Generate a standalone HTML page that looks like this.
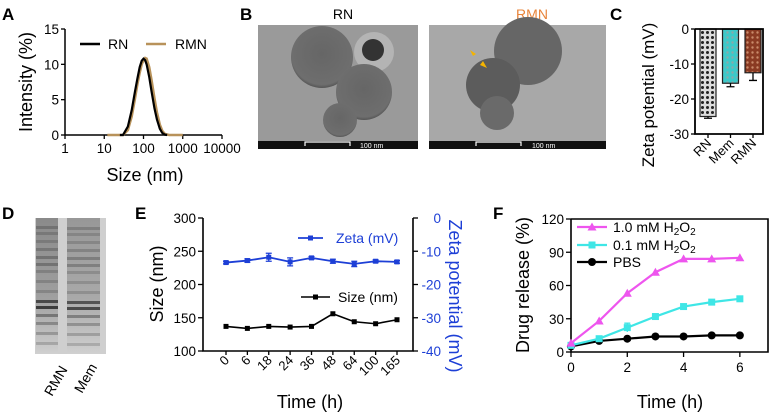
<!DOCTYPE html>
<html><head><meta charset="utf-8"><style>
body{margin:0;background:#fff;}
svg{display:block;font-family:"Liberation Sans",Arial,sans-serif;}
</style></head><body>
<svg id="fig" width="772" height="414" viewBox="0 0 772 414" xmlns="http://www.w3.org/2000/svg">
<defs>
<pattern id="pRN" width="5" height="5" patternUnits="userSpaceOnUse"><rect width="5" height="5" fill="#ddd"/><circle cx="2.5" cy="2.5" r="1.5" fill="#222"/></pattern>
<pattern id="pMem" width="5" height="5" patternUnits="userSpaceOnUse"><rect width="5" height="5" fill="#3cc9c9"/><circle cx="2.5" cy="2.5" r="1.2" fill="#8aa"/></pattern>
<pattern id="pRMN" width="5" height="5" patternUnits="userSpaceOnUse"><rect width="5" height="5" fill="#8a3a22"/><circle cx="2.5" cy="2.5" r="1.2" fill="#c98a6a"/></pattern>
<radialGradient id="sph" cx="50%" cy="45%" r="55%"><stop offset="0" stop-color="#666"/><stop offset="0.9" stop-color="#6e6e6e"/><stop offset="1" stop-color="#555"/></radialGradient>
<linearGradient id="gelg" x1="0" y1="0" x2="0" y2="1"><stop offset="0" stop-color="#8a8a8a"/><stop offset="0.6" stop-color="#a0a0a0"/><stop offset="1" stop-color="#d0d0d0"/></linearGradient>
</defs>
<g id="gA"></g>
<g id="gB">
 <text x="2" y="20" font-size="17" font-weight="bold">A</text>
 <text x="240" y="20" font-size="17" font-weight="bold">B</text>
 <text x="343" y="19" font-size="14" text-anchor="middle">RN</text>
 <text x="532" y="19" font-size="14" text-anchor="middle" fill="#e8843a">RMN</text>
 <g>
  <rect x="258" y="25" width="160" height="124" fill="#9a9a9a"/>
  <circle cx="322" cy="57" r="31" fill="url(#sph)"/>
  <circle cx="374" cy="52" r="20" fill="#b4b4b4"/><circle cx="373" cy="50" r="11" fill="#333"/>
  <circle cx="364" cy="92" r="28" fill="url(#sph)"/>
  <circle cx="340" cy="120" r="17" fill="url(#sph)"/>
  <rect x="258" y="141" width="160" height="8" fill="#111"/>
  <path d="M305 146V142H350V146" stroke="#fff" fill="none" stroke-width="1.2"/>
  <text x="360" y="148" font-size="7" fill="#fff">100 nm</text>
 </g>
 <g>
  <rect x="429" y="25" width="177" height="124" fill="#a8a8a8"/>
  <circle cx="528" cy="51" r="34" fill="#666"/>
  <circle cx="493" cy="85" r="27" fill="#5c5c5c"/>
  <circle cx="497" cy="113" r="17" fill="#6a6a6a"/>
  <path d="M470 50l6 4-3 2zM487 68l-7-3 3-4z" fill="#f5b400"/>
  <rect x="429" y="141" width="177" height="8" fill="#111"/>
  <path d="M476 146V142H521V146" stroke="#fff" fill="none" stroke-width="1.2"/>
  <text x="532" y="148" font-size="7" fill="#fff">100 nm</text>
 </g>
</g>
<g id="gC"></g>
<g id="gD">
 <text x="2" y="219" font-size="17" font-weight="bold">D</text>
 <g id="gel">
  <rect x="35" y="218" width="71" height="136" fill="#cfcfcf"/>
  <rect x="36" y="218" width="22" height="136" fill="url(#gelg)"/>
  <rect x="67" y="218" width="33" height="136" fill="url(#gelg)" opacity="0.8"/>
 </g>
 <text transform="translate(52,397) rotate(-60)" font-size="14">RMN</text>
 <text transform="translate(82,394) rotate(-60)" font-size="14">Mem</text>
</g>
<g id="gE"></g>
<g id="gF"></g>
</svg>
<script>
// ---- Panel A data ----
const aSizesRN=[25,30,40,50,60,70,80,90,100,110,120,140,160,190,220,260,300,350,400];
const aIntRN=[0,0,1.2,3.5,6,8,9.6,10.5,10.8,10.6,10,8.2,6.2,3.8,2.2,0.9,0.3,0.05,0];
const aSizesRMN=[12,30,40,50,60,70,80,90,100,110,120,140,160,190,220,260,300,350,450,600,1000];
const aIntRMN=[0,0,0.7,2.6,5,7.2,8.8,10,10.6,10.9,10.8,9.6,7.8,5.2,3.2,1.5,0.6,0.15,0,0,0];
const aXTicks=[1,10,100,1000,10000];
const aYTicks=[0,5,10,15];
// ---- Panel C data ----
const cCats=["RN","Mem","RMN"];
const cVals=[-25,-15.5,-12.5];
const cErr=[0.5,1,2.2];
const cYTicks=[0,-10,-20,-30];
// ---- Panel E data ----
const eCats=["0","6","18","24","36","48","64","100","165"];
const eSize=[137,134,137,136,137,156,144,141,147];
const eZeta=[-13.4,-12.8,-11.8,-13.2,-12,-13,-13.8,-13,-13.2];
const eZetaErr=[0.4,0.5,1.2,1.2,0.4,0.6,0.8,0.4,0.4];
const eYTicks=[100,150,200,250,300];
const eY2Ticks=[0,-10,-20,-30,-40];
// ---- Panel F data ----
const fTime=[0,1,2,3,4,5,6];
const fHigh=[8,28,53,72,84,84,85];
const fLow=[6,12,22,32,41,45,48];
const fPBS=[5,10,12,14,14,15,15];
const fLowErr=[0,1,4,2,2,2,1];
const fXTicks=[0,2,4,6];
const fYTicks=[0,30,60,90,120];
// gel band rows (y offset, darkness)
const gelBands=[[8,0.25],[14,0.2],[22,0.2],[30,0.25],[38,0.3],[45,0.3],[52,0.2],[62,0.2],[72,0.2],[82,0.7],[88,0.8],[96,0.4],[104,0.3],[114,0.25],[124,0.2]];

const NS="http://www.w3.org/2000/svg";
function mk(parent,tag,attrs,txt){const e=document.createElementNS(NS,tag);for(const k in attrs)e.setAttribute(k,attrs[k]);if(txt!==undefined)e.textContent=txt;parent.appendChild(e);return e;}
const TF=13.5, TT=18;

// gel bands
(function(){const g=document.getElementById('gel');
 gelBands.forEach(([dy,o])=>{mk(g,'rect',{x:36,y:218+dy,width:22,height:3,fill:'#222',opacity:o});
  mk(g,'rect',{x:67,y:218+dy+1,width:33,height:3,fill:'#222',opacity:o*0.9});});
})();

// ===== Panel A =====
(function(){
 const g=document.getElementById('gA');
 const X0=65,X1=222,Y0=135,Y1=29;
 const x=v=>X0+(Math.log10(v)-0)/4*(X1-X0);
 const y=v=>Y0-v/15*(Y0-Y1);
 let ax=mk(g,'path',{d:`M${X0} ${Y1}V${Y0}H${X1}`,stroke:'#000','stroke-width':1.5,fill:'none'});
 
 
 aXTicks.forEach(t=>{mk(g,'line',{x1:x(t),x2:x(t),y1:Y0,y2:Y0+4,stroke:'#000','stroke-width':1.3});
  const l=mk(g,'text',{x:x(t),y:Y0+18,'font-size':TF,'text-anchor':'middle'},String(t));
  
  });
 aYTicks.forEach(t=>{mk(g,'line',{x1:X0-4,x2:X0,y1:y(t),y2:y(t),stroke:'#000','stroke-width':1.3});
  const l=mk(g,'text',{x:X0-6,y:y(t)+5,'font-size':TF,'text-anchor':'end'},String(t));
  
  });
 const lr=mk(g,'path',{d:aSizesRMN.map((s,i)=>(i?'L':'M')+x(s)+' '+y(aIntRMN[i])).join(''),stroke:'#b8925a','stroke-width':2.5,fill:'none'});
 
 
 const ln=mk(g,'path',{d:aSizesRN.map((s,i)=>(i?'L':'M')+x(s)+' '+y(aIntRN[i])).join(''),stroke:'#000','stroke-width':2.2,fill:'none'});
 
 
 mk(g,'line',{x1:80,x2:100,y1:44,y2:44,stroke:'#000','stroke-width':2.5});
 let t=mk(g,'text',{x:108,y:49,'font-size':14},'RN');
 
 
 mk(g,'line',{x1:146,x2:166,y1:44,y2:44,stroke:'#b8925a','stroke-width':2.5});
 t=mk(g,'text',{x:175,y:49,'font-size':14},'RMN');
 
 
 t=mk(g,'text',{x:145,y:181,'font-size':TT,'text-anchor':'middle'},'Size (nm)');
 
 
 t=mk(g,'text',{transform:`translate(32,82) rotate(-90)`,'font-size':TT,'text-anchor':'middle'},'Intensity (%)');
 
 
})();

// ===== Panel C =====
(function(){
 const g=document.getElementById('gC');
 const X0=695,X1=763,Y0=29,Y1=134;
 const y=v=>Y0+(-v)/30*(Y1-Y0);
 let t=mk(g,'text',{x:610,y:20,'font-size':17,'font-weight':'bold'},'C');
 
 
 const fills=['url(#pRN)','url(#pMem)','url(#pRMN)'];
 const bw=16,step=22.5,start=700;
 cCats.forEach((c,i)=>{
  const bx=start+i*step;
  const b=mk(g,'rect',{x:bx,y:y(0),width:bw,height:y(cVals[i])-y(0),fill:fills[i],stroke:'#222','stroke-width':1.2});
  
  
  const cx=bx+bw/2,ye=y(cVals[i]-cErr[i]);
  mk(g,'path',{d:`M${cx} ${y(cVals[i])}V${ye}M${cx-4} ${ye}H${cx+4}`,stroke:'#000','stroke-width':1.3,fill:'none'});
  mk(g,'line',{x1:cx,x2:cx,y1:Y1,y2:Y1+4,stroke:'#000','stroke-width':1.3});
  const l=mk(g,'text',{transform:`translate(${cx+4},${Y1+10}) rotate(-45)`,'font-size':13,'text-anchor':'end'},c);
  
  
 });
 const ax=mk(g,'path',{d:`M${X0} ${Y0}V${Y1}H${X1}V${Y0}H${X0}`,stroke:'#000','stroke-width':1.8,fill:'none'});
 
 
 cYTicks.forEach(v=>{mk(g,'line',{x1:X0-4,x2:X0,y1:y(v),y2:y(v),stroke:'#000','stroke-width':1.3});
  const l=mk(g,'text',{x:X0-6,y:y(v)+5,'font-size':TF,'text-anchor':'end'},String(v));
  
  });
 t=mk(g,'text',{transform:`translate(654,95) rotate(-90)`,'font-size':17,'text-anchor':'middle'},'Zeta potential (mV)');
 
 
})();

// ===== Panel E =====
(function(){
 const g=document.getElementById('gE');
 const X0=203,X1=413,Y0=351,Y1=218,BLUE='#1d3fd6';
 const x=i=>226+i*(397-226)/(eCats.length-1);
 const y=v=>Y0-(v-100)/200*(Y0-Y1);
 const y2=v=>Y1+(-v)/40*(Y0-Y1);
 let t=mk(g,'text',{x:135,y:219,'font-size':17,'font-weight':'bold'},'E');
 
 
 const ax=mk(g,'path',{d:`M${X0} ${Y1}V${Y0}H${X1}V${Y1}`,stroke:'#000','stroke-width':1.6,fill:'none'});
 
 
 eYTicks.forEach(v=>{mk(g,'line',{x1:X0-5,x2:X0,y1:y(v),y2:y(v),stroke:'#000','stroke-width':1.3});
  const l=mk(g,'text',{x:X0-7,y:y(v)+5,'font-size':TF,'text-anchor':'end'},String(v));
  
  });
 eY2Ticks.forEach(v=>{mk(g,'line',{x1:X1,x2:X1+5,y1:y2(v),y2:y2(v),stroke:'#000','stroke-width':1.3});
  const l=mk(g,'text',{x:X1+28,y:y2(v)+5,'font-size':TF,'text-anchor':'end',fill:BLUE},String(v));
  
  });
 eCats.forEach((c,i)=>{mk(g,'line',{x1:x(i),x2:x(i),y1:Y0,y2:Y0+4,stroke:'#000','stroke-width':1.3});
  const l=mk(g,'text',{transform:`translate(${x(i)+4},${Y0+10}) rotate(-45)`,'font-size':13,'text-anchor':'end'},c);
  
  });
 const zl=mk(g,'path',{d:eZeta.map((v,i)=>(i?'L':'M')+x(i)+' '+y2(v)).join(''),stroke:BLUE,'stroke-width':1.8,fill:'none'});
 
 
 eZeta.forEach((v,i)=>{const a=y2(v+eZetaErr[i]),b=y2(v-eZetaErr[i]);
  mk(g,'path',{d:`M${x(i)} ${a}V${b}M${x(i)-3} ${a}h6M${x(i)-3} ${b}h6`,stroke:BLUE,'stroke-width':1.3,fill:'none'});
  const p=mk(g,'rect',{x:x(i)-2.5,y:y2(v)-2.5,width:5,height:5,fill:BLUE});
  
  });
 const sl=mk(g,'path',{d:eSize.map((v,i)=>(i?'L':'M')+x(i)+' '+y(v)).join(''),stroke:'#000','stroke-width':1.6,fill:'none'});
 
 
 eSize.forEach((v,i)=>{const p=mk(g,'rect',{x:x(i)-2.5,y:y(v)-2.5,width:5,height:5,fill:'#000'});
  
  });
 mk(g,'line',{x1:298,x2:323,y1:238,y2:238,stroke:BLUE,'stroke-width':1.8});
 mk(g,'rect',{x:308,y:235.5,width:5,height:5,fill:BLUE});
 t=mk(g,'text',{x:336,y:243,'font-size':14,fill:BLUE},'Zeta (mV)');
 
 
 mk(g,'line',{x1:301,x2:330,y1:297,y2:297,stroke:'#000','stroke-width':1.6});
 mk(g,'rect',{x:313,y:294.5,width:5,height:5,fill:'#000'});
 t=mk(g,'text',{x:338,y:302,'font-size':14},'Size (nm)');
 
 
 t=mk(g,'text',{x:310,y:408,'font-size':TT,'text-anchor':'middle'},'Time (h)');
 
 
 t=mk(g,'text',{transform:`translate(163,284) rotate(-90)`,'font-size':TT,'text-anchor':'middle'},'Size (nm)');
 
 
 t=mk(g,'text',{transform:`translate(449,296) rotate(90)`,'font-size':TT,'text-anchor':'middle',fill:BLUE},'Zeta potential (mV)');
 
 
})();

// ===== Panel F =====
(function(){
 const g=document.getElementById('gF');
 const X0=571,X1=768,Y0=352,Y1=219;
 const x=v=>X0+v/7*(X1-X0);
 const y=v=>Y0-v/120*(Y0-Y1);
 let t=mk(g,'text',{x:493,y:219,'font-size':17,'font-weight':'bold'},'F');
 
 
 const ax=mk(g,'path',{d:`M${X0} ${Y1}V${Y0}H${X1}V${Y1}H${X0}`,stroke:'#000','stroke-width':1.6,fill:'none'});
 
 
 fYTicks.forEach(v=>{mk(g,'line',{x1:X0-5,x2:X0,y1:y(v),y2:y(v),stroke:'#000','stroke-width':1.3});
  const l=mk(g,'text',{x:X0-7,y:y(v)+5,'font-size':TF,'text-anchor':'end'},String(v));
  
  });
 fXTicks.forEach(v=>{mk(g,'line',{x1:x(v),x2:x(v),y1:Y0,y2:Y0+5,stroke:'#000','stroke-width':1.3});
  const l=mk(g,'text',{x:x(v),y:Y0+20,'font-size':TF,'text-anchor':'middle'},String(v));
  
  });
 let l1=mk(g,'path',{d:fPBS.map((v,i)=>(i?'L':'M')+x(fTime[i])+' '+y(v)).join(''),stroke:'#000','stroke-width':2.2,fill:'none'});
 
 
 fPBS.forEach((v,i)=>{const p=mk(g,'circle',{cx:x(fTime[i]),cy:y(v),r:4,fill:'#000'});
  
  });
 let l2=mk(g,'path',{d:fLow.map((v,i)=>(i?'L':'M')+x(fTime[i])+' '+y(v)).join(''),stroke:'#3fe6e6','stroke-width':2.2,fill:'none'});
 
 
 fLow.forEach((v,i)=>{const cx=x(fTime[i]);
  if(fLowErr[i])mk(g,'path',{d:`M${cx} ${y(v+fLowErr[i])}V${y(v-fLowErr[i])}M${cx-3} ${y(v+fLowErr[i])}h6`,stroke:'#3fe6e6','stroke-width':1.3});
  const p=mk(g,'rect',{x:cx-3.5,y:y(v)-3.5,width:7,height:7,fill:'#3fe6e6'});
  
  });
 let l3=mk(g,'path',{d:fHigh.map((v,i)=>(i?'L':'M')+x(fTime[i])+' '+y(v)).join(''),stroke:'#ee55ee','stroke-width':2.2,fill:'none'});
 
 
 fHigh.forEach((v,i)=>{const cx=x(fTime[i]),cy=y(v);
  const p=mk(g,'path',{d:`M${cx} ${cy-4.5}L${cx+4.5} ${cy+3.5}H${cx-4.5}Z`,fill:'#ee55ee'});
  
  });
 const lg=[['#ee55ee','1.0 mM H','tri',227],['#3fe6e6','0.1 mM H','sq',245],['#000','PBS','cir',262]];
 lg.forEach(([c,txt,s,ly])=>{
  mk(g,'line',{x1:577,x2:607,y1:ly,y2:ly,stroke:c,'stroke-width':2.2});
  if(s==='tri')mk(g,'path',{d:`M592 ${ly-4.5}L596.5 ${ly+3.5}H587.5Z`,fill:c});
  if(s==='sq')mk(g,'rect',{x:588.5,y:ly-3.5,width:7,height:7,fill:c});
  if(s==='cir')mk(g,'circle',{cx:592,cy:ly,r:4,fill:c});
  const te=mk(g,'text',{x:613,y:ly+5,'font-size':14},txt);
  
  
  if(s!=='cir'){mk(te,'tspan',{'font-size':10,dy:3},'2');mk(te,'tspan',{dy:-3},'O');mk(te,'tspan',{'font-size':10,dy:3},'2');}
 });
 t=mk(g,'text',{x:670,y:408,'font-size':TT,'text-anchor':'middle'},'Time (h)');
 
 
 t=mk(g,'text',{transform:`translate(529,285) rotate(-90)`,'font-size':TT,'text-anchor':'middle'},'Drug release (%)');
 
 
})();
</script>
</body></html>
